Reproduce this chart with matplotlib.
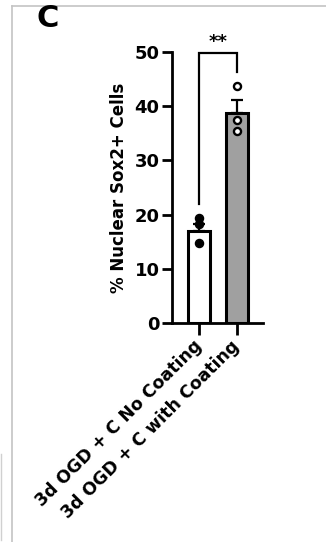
import numpy as np
import matplotlib
matplotlib.use('Agg')
import matplotlib.pyplot as plt
from matplotlib.lines import Line2D

# ── data ──
groups = ['3d OGD + C No Coating', '3d OGD + C with Coating']
means = [17.0, 38.8]
sem = [1.2, 2.3]
pts_no = [19.4, 18.3, 14.8]
pts_with = [43.8, 37.5, 35.4]
fills = ['white', '#a0a0a0']
yticks = [0, 10, 20, 30, 40, 50]

plt.rcParams['font.family'] = ['DejaVu Sans']
plt.rcParams['font.weight'] = 'bold'

fig = plt.figure(figsize=(3.26, 5.42), dpi=100)
fig.patch.set_facecolor('white')

# grey frame of the panel
fig.add_artist(Line2D([12/326, 1], [1 - 6/542, 1 - 6/542], color='#c4c4c4', lw=1.2))
fig.add_artist(Line2D([12/326, 12/326], [0, 1 - 6/542], color='#c4c4c4', lw=1.2))
fig.add_artist(Line2D([1/326, 1/326], [2/542, 88/542], color='#d0d0d0', lw=1.0))

fig.text(37/326, 1 - 27/542, 'C', fontsize=22, fontweight='bold', ha='left', va='baseline')

ax = fig.add_axes([172/326, 1 - 323/542, 91/326, 271/542])
x = np.arange(len(groups))
ax.bar(x, means, width=0.6, color=fills, edgecolor='black', linewidth=2.2, zorder=2)
ax.errorbar(x, means, yerr=[[0, 0], sem], fmt='none', ecolor='black',
            elinewidth=1.6, capsize=4.5, capthick=1.6, zorder=1)

ax.scatter(np.full(len(pts_no), x[0]), pts_no, s=34, color='black', zorder=3, clip_on=False)
ax.scatter(np.full(len(pts_with), x[1]), pts_with, s=26, facecolor='white', edgecolor='black',
           linewidth=1.7, zorder=3, clip_on=False)

# significance bracket
ax.plot([x[0], x[0], x[1], x[1]], [22.0, 49.8, 49.8, 46.4], color='black', lw=1.6,
        clip_on=False, solid_joinstyle='miter')
ax.text((x[0] + x[1]) / 2, 50.1, '**', ha='center', va='bottom', fontsize=13, fontweight='bold')

ax.set_xlim(-0.71, 1.684)
ax.set_ylim(0, 50)
ax.set_yticks(yticks)
ax.set_yticklabels([str(t) for t in yticks], fontsize=13, fontweight='bold')
ax.set_xticks(x)
ax.set_xticklabels(groups, rotation=45, ha='right', va='center', rotation_mode='anchor',
                   fontsize=12.5, fontweight='bold')
ax.tick_params(axis='y', length=7, width=2, pad=2)
ax.tick_params(axis='x', length=8.5, width=2, pad=6)
ax.set_ylabel('% Nuclear Sox2+ Cells', fontsize=12, fontweight='bold', labelpad=5)

for s in ['top', 'right']:
    ax.spines[s].set_visible(False)
for s in ['left', 'bottom']:
    ax.spines[s].set_linewidth(2)

fig.savefig('out.png', dpi=100, facecolor='white')
